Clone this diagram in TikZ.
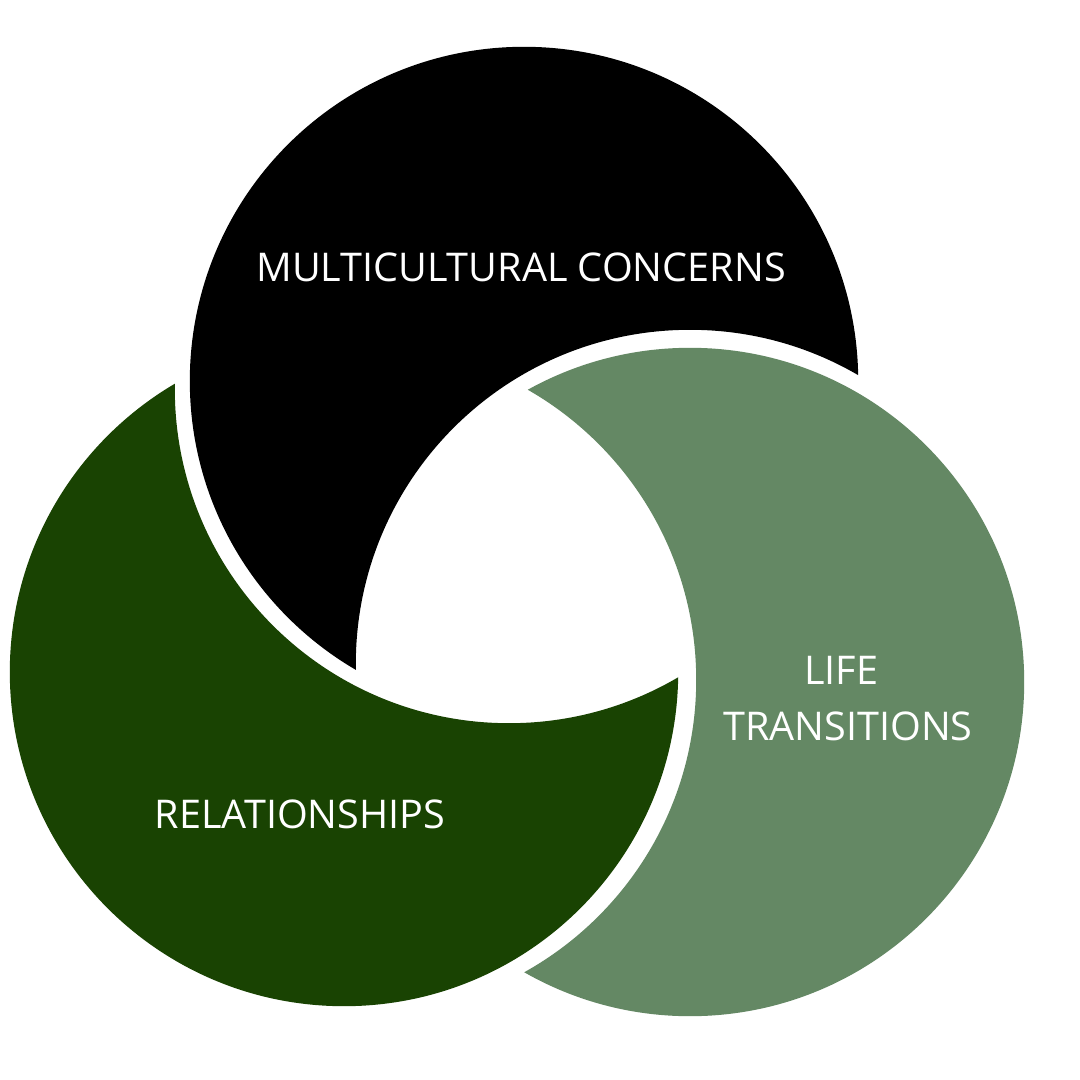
\documentclass[tikz,border=0pt]{standalone}
\usepackage{fontspec}
\setmainfont{Open Sans}
\definecolor{dkgreen}{HTML}{194302}
\definecolor{ltgreen}{HTML}{648864}
\begin{document}
\begin{tikzpicture}[x=0.01cm,y=-0.01cm,
  lbl/.style={text=white,inner sep=0pt,font=\fontsize{11.25}{13}\selectfont}]
\useasboundingbox[fill=white] (0,0) rectangle (1080,1080);
\def\R{3.34cm}
% centres
\coordinate (cB) at (524,381);
\coordinate (cL) at (690,682);
\coordinate (cD) at (344,672);
% cutting circles
\coordinate (kB) at (690,664);
\coordinate (kL) at (362,680);
\coordinate (kD) at (509,389);
% black shape
\begin{scope}[even odd rule]
  \clip (-200,-200) rectangle (1300,1300) (kB) circle (\R);
  \fill[black] (cB) circle (\R);
\end{scope}
% light green shape
\begin{scope}[even odd rule]
  \clip (-200,-200) rectangle (1300,1300) (kL) circle (\R);
  \fill[ltgreen] (cL) circle (\R);
\end{scope}
% dark green shape
\begin{scope}[even odd rule]
  \clip (-200,-200) rectangle (1300,1300) (kD) circle (\R);
  \fill[dkgreen] (cD) circle (\R);
\end{scope}
\node[lbl] (multi) at (521,267) {MULTICULTURAL CONCERNS};
\node[lbl] (life) at (841,670) {LIFE};
\node[lbl] (trans) at (848,726) {TRANSITIONS};
\node[lbl] (rel) at (300,814) {RELATIONSHIPS};
\end{tikzpicture}
\end{document}
